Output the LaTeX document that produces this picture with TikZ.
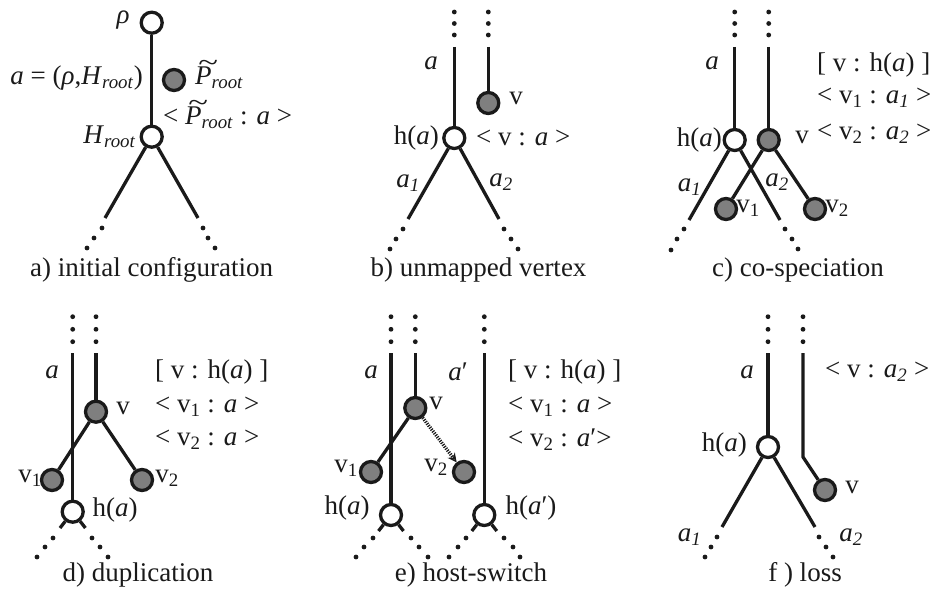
\documentclass[tikz,border=0pt]{standalone}
\usepackage{fontspec}
\usepackage{graphicx}
\setmainfont{Liberation Serif}
\usetikzlibrary{arrows.meta}
\definecolor{ink}{HTML}{1A1A1A}
\definecolor{pfill}{HTML}{7F7F7F}
\newcommand{\Ptl}{\makebox[0pt][l]{\hspace{0.12em}\smash{\raisebox{0.5em}{\scalebox{1.35}[1]{\textasciitilde}}}}\textit{P}}
\newcommand{\ita}{\textit{a}}
\newcommand{\vs}[1]{v\textsubscript{#1}}
\newcommand{\as}[1]{\textit{a}\textsubscript{\textit{#1}}}
\newcommand{\rt}{\textsubscript{\textit{root}}}
\newcommand{\threedots}[6]{\fill[ink] (#1,#2) circle (2.4) (#3,#4) circle (2.4) (#5,#6) circle (2.4);}
\begin{document}
\begin{tikzpicture}[x=1pt,y=-1pt,
  ln/.style={draw=ink,line width=3.3pt},
  hnode/.style={circle,draw=ink,line width=3.3pt,fill=white,minimum size=21pt,inner sep=0pt},
  pnode/.style={hnode,fill=pfill},
  lab/.style={text=ink,inner sep=0pt,font=\fontsize{27}{32}\selectfont},
  dotarrow/.style={draw=ink,line width=3.4pt,dash pattern=on 1.2pt off 1.2pt,-{Stealth[length=9pt,width=9pt,open,line width=1.5pt]}},
]
\useasboundingbox (0,0) rectangle (933,596);

% ---------------- a) initial configuration
\node[hnode] (rho) at (151.7,22.7) {};
\node[hnode] (hroot) at (151.7,136.7) {};
\node[pnode] (proot) at (174,80) {};
\coordinate (aL) at (105,218);
\coordinate (aR) at (198,218);
\draw[ln] (rho) -- (hroot);
\draw[ln] (hroot) -- (aL);
\draw[ln] (hroot) -- (aR);
\threedots{102}{228}{94}{238}{87}{248}
\threedots{203}{228}{208}{238}{215}{248}
\node[lab] (lrho) at (123,20) {\textit{ρ}};
\node[lab,anchor=east] (la) at (143,78) {\ita{} = (\textit{ρ},\textit{H}\rt)};
\node[lab,anchor=west] (lp) at (195,78) {\Ptl\rt};
\node[lab,anchor=west] (lpa) at (163,118) {< \Ptl\rt{} : \ita{} >};
\node[lab,anchor=east] (lh) at (136,137) {\textit{H}\rt};
\node[lab] (capa) at (151.7,270) {a) initial configuration};

% ---------------- b) unmapped vertex
\node[hnode] (bha) at (454.3,138) {};
\node[pnode] (bv) at (488.3,103) {};
\coordinate (bt1) at (454.3,47);
\coordinate (bt2) at (488.3,47);
\coordinate (bL) at (408,219);
\coordinate (bR) at (499,219);
\draw[ln] (bt1) -- (bha);
\draw[ln] (bt2) -- (bv);
\draw[ln] (bha) -- (bL);
\draw[ln] (bha) -- (bR);
\threedots{454.3}{12}{454.3}{23.5}{454.3}{35}
\threedots{488.3}{12}{488.3}{23.5}{488.3}{35}
\threedots{403}{229}{396}{239}{390}{249}
\threedots{504}{229}{511}{239}{518}{249}
\node[lab] (bla) at (431,63) {\ita};
\node[lab] (blv) at (516,98) {v};
\node[lab,anchor=east] (blh) at (439,138) {h(\ita)};
\node[lab,anchor=west] (blva) at (476,138) {< v : \ita{} >};
\node[lab] (bla1) at (408,183) {\as{1}};
\node[lab] (bla2) at (501,182) {\as{2}};
\node[lab] (capb) at (478.5,270) {b) unmapped vertex};

% ---------------- c) co-speciation
\node[hnode] (cha) at (734.7,140) {};
\node[pnode] (cv) at (768.7,140) {};
\node[pnode] (cv1) at (726,209) {};
\node[pnode] (cv2) at (815,209) {};
\coordinate (ct1) at (734.7,47);
\coordinate (ct2) at (768.7,47);
\coordinate (cL) at (689,220);
\coordinate (cR) at (780,220);
\draw[ln] (ct1) -- (cha);
\draw[ln] (ct2) -- (cv);
\draw[ln] (cha) -- (cL);
\draw[ln] (cha) -- (cR);
\draw[ln] (cv) -- (cv1);
\draw[ln] (cv) -- (cv2);
\threedots{734.7}{12}{734.7}{23.5}{734.7}{35}
\threedots{768.7}{12}{768.7}{23.5}{768.7}{35}
\threedots{684}{229}{677}{239}{671}{250}
\threedots{785}{229}{792}{239}{798}{249}
\node[lab] (cla) at (712,63) {\ita};
\node[lab,anchor=east] (clh) at (722,140) {h(\ita)};
\node[lab] (clv) at (802,137) {v};
\node[lab] (clv1) at (748,208) {\vs{1}};
\node[lab] (clv2) at (837,208) {\vs{2}};
\node[lab] (cla1) at (689.5,187) {\as{1}};
\node[lab] (cla2) at (777,182) {\as{2}};
\node[lab,anchor=west] (cm1) at (817,65) {[ v : h(\ita) ]};
\node[lab,anchor=west] (cm2) at (817,98) {< \vs{1} : \as{1} >};
\node[lab,anchor=west] (cm3) at (817,134) {< \vs{2} : \as{2} >};
\node[lab] (capc) at (798,270) {c) co-speciation};

% ---------------- d) duplication
\node[pnode] (dv) at (96,411.7) {};
\node[pnode] (dv1) at (52,480) {};
\node[pnode] (dv2) at (142,480) {};
\node[hnode] (dha) at (72.7,511.7) {};
\coordinate (dt1) at (72.7,353);
\coordinate (dt2) at (96,353);
\coordinate (dsL) at (60,528);
\coordinate (dsR) at (85.4,528);
\draw[ln] (dt1) -- (dha);
\draw[ln] (dt2) -- (dv);
\draw[ln] (dv) -- (dv1);
\draw[ln] (dv) -- (dv2);
\draw[ln] (dha) -- (dsL);
\draw[ln] (dha) -- (dsR);
\threedots{72.7}{316.7}{72.7}{329.3}{72.7}{341.7}
\threedots{96}{316.7}{96}{329.3}{96}{341.7}
\threedots{53}{538}{45}{547}{37}{557}
\threedots{92}{538}{100}{547}{108}{557}
\node[lab] (dla) at (52,372) {\ita};
\node[lab] (dlv) at (123,408) {v};
\node[lab] (dlv1) at (30,478) {\vs{1}};
\node[lab] (dlv2) at (167,478) {\vs{2}};
\node[lab] (dlh) at (115,510) {h(\ita)};
\node[lab,anchor=west] (dm1) at (155,372) {[ v : h(\ita) ]};
\node[lab,anchor=west] (dm2) at (155,407) {< \vs{1} : \ita{} >};
\node[lab,anchor=west] (dm3) at (155,440) {< \vs{2} : \ita{} >};
\node[lab] (capd) at (138,575) {d) duplication};

% ---------------- e) host-switch
\node[pnode] (ev) at (415.3,408) {};
\node[pnode] (ev1) at (371,472) {};
\node[pnode] (ev2) at (464,472) {};
\node[hnode] (eha) at (391,515) {};
\node[hnode] (eha2) at (484.3,515) {};
\coordinate (et1) at (391,353);
\coordinate (et2) at (415.3,353);
\coordinate (et3) at (484.3,353);
\coordinate (esL) at (378.5,531);
\coordinate (esR) at (403.5,531);
\coordinate (esL2) at (471.8,531);
\coordinate (esR2) at (496.8,531);
\draw[ln] (et1) -- (eha);
\draw[ln] (et2) -- (ev);
\draw[ln] (et3) -- (eha2);
\draw[ln] (ev) -- (ev1);
\draw[dotarrow] (ev) -- (ev2);
\draw[ln] (eha) -- (esL);
\draw[ln] (eha) -- (esR);
\draw[ln] (eha2) -- (esL2);
\draw[ln] (eha2) -- (esR2);
\threedots{391}{316.7}{391}{329.3}{391}{341.7}
\threedots{415.3}{316.7}{415.3}{329.3}{415.3}{341.7}
\threedots{484.3}{316.7}{484.3}{329.3}{484.3}{341.7}
\threedots{373}{538}{364}{547}{356}{557}
\threedots{411}{538}{419}{547}{428}{557}
\threedots{466}{538}{458}{547}{449}{557}
\threedots{504}{538}{513}{547}{520}{557}
\node[lab] (ela) at (371,372) {\ita};
\node[lab] (elap) at (458,372) {\ita′};
\node[lab] (elv) at (436,403) {v};
\node[lab] (elv1) at (346,468) {\vs{1}};
\node[lab] (elv2) at (436,467) {\vs{2}};
\node[lab] (elh) at (347,508) {h(\ita)};
\node[lab] (elh2) at (531,508) {h(\ita′)};
\node[lab,anchor=west] (em1) at (508,372) {[ v : h(\ita) ]};
\node[lab,anchor=west] (em2) at (508,407) {< \vs{1} : \ita{} >};
\node[lab,anchor=west] (em3) at (508,440) {< \vs{2} : \ita′>};
\node[lab] (cape) at (471,575) {e) host-switch};

% ---------------- f) loss
\node[hnode] (fha) at (768,447) {};
\node[pnode] (fv) at (825,490) {};
\coordinate (ft1) at (768,353);
\coordinate (ft2) at (803,353);
\coordinate (fbend) at (803,457);
\coordinate (fL) at (722,527);
\coordinate (fR) at (815,527);
\draw[ln] (ft1) -- (fha);
\draw[ln] (ft2) -- (fbend) -- (fv);
\draw[ln] (fha) -- (fL);
\draw[ln] (fha) -- (fR);
\threedots{768}{316.7}{768}{329.3}{768}{341.7}
\threedots{803}{316.7}{803}{329.3}{803}{341.7}
\threedots{717}{537}{711}{547}{705}{557}
\threedots{819}{537}{826}{547}{833}{557}
\node[lab] (fla) at (747,372) {\ita};
\node[lab,anchor=west] (fm1) at (825,372) {< v : \as{2} >};
\node[lab,anchor=east] (flh) at (747,445) {h(\ita)};
\node[lab] (flv) at (852,487) {v};
\node[lab] (fla1) at (689.5,537) {\as{1}};
\node[lab] (fla2) at (851,537) {\as{2}};
\node[lab] (capf) at (805,575) {f ) loss};
\end{tikzpicture}
\end{document}
